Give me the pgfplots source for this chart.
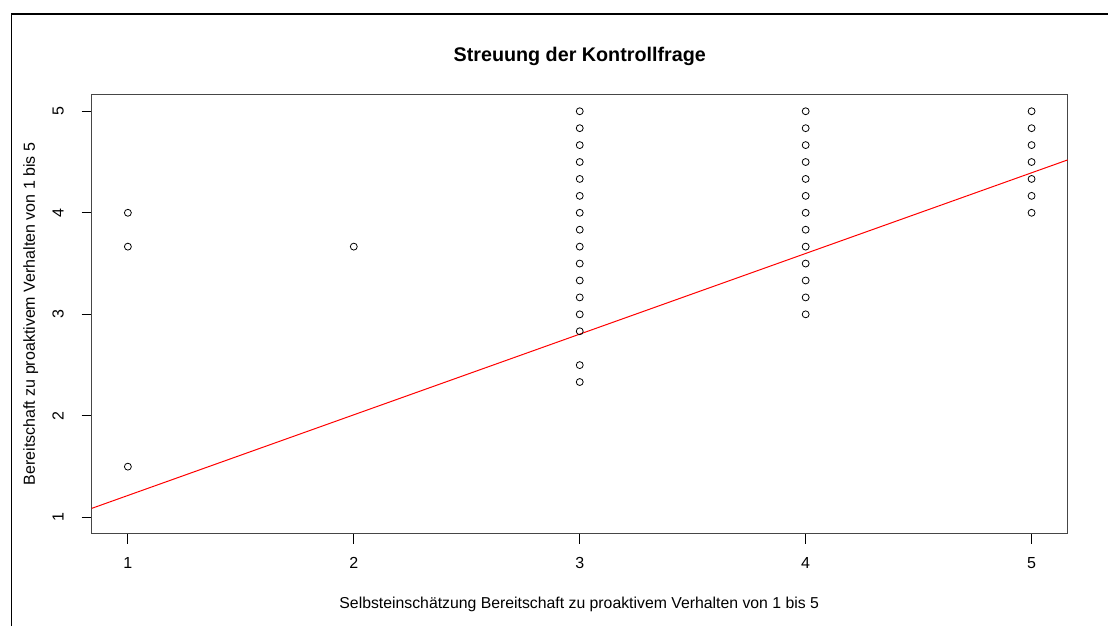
\documentclass[border=0pt]{standalone}
\usepackage{pgfplots}
\pgfplotsset{compat=1.18}
\usepackage{fontspec}
\setmainfont{Liberation Sans}
\definecolor{axgray}{RGB}{70,70,70}
\begin{document}
\begin{tikzpicture}
\path[use as bounding box] (0pt,0pt) rectangle (831pt,469.5pt);
\draw[black, line width=1.4pt] (8.6pt,0pt) -- (8.6pt,459pt) -- (831pt,459pt);
\begin{axis}[
  at={(68.8pt,398.25pt)}, anchor=north west,
  width=732pt, height=329pt, scale only axis,
  xmin=0.84, xmax=5.16, ymin=0.84, ymax=5.16,
  xtick={1,2,3,4,5}, ytick={1,2,3,4,5},
  axis line style={axgray, line width=0.75pt},
  tick style={black, line width=0.75pt},
  tick align=outside, major tick length=7.5pt,
  xtick pos=bottom, ytick pos=left,
  /pgf/number format/assume math mode=true,
  tick label style={font=\fontsize{12}{14}\selectfont, text=black},
  xticklabel style={anchor=base, yshift=-19pt},
  yticklabel style={rotate=90, anchor=base, yshift=13.5pt},
  clip=true,
]
\addplot[only marks, mark=o, mark size=2.6pt, mark options={black, line width=0.6pt}] coordinates {
(1,4) (1,3.6667) (1,1.5)
(2,3.6667)
(3,5) (3,4.8333) (3,4.6667) (3,4.5) (3,4.3333) (3,4.1667) (3,4) (3,3.8333) (3,3.6667) (3,3.5) (3,3.3333) (3,3.1667) (3,3) (3,2.8333) (3,2.5) (3,2.3333)
(4,5) (4,4.8333) (4,4.6667) (4,4.5) (4,4.3333) (4,4.1667) (4,4) (4,3.8333) (4,3.6667) (4,3.5) (4,3.3333) (4,3.1667) (4,3)
(5,5) (5,4.8333) (5,4.6667) (5,4.5) (5,4.3333) (5,4.1667) (5,4)
};
\addplot[red, line width=0.75pt] coordinates {(0.84,1.089) (5.16,4.521)};
\end{axis}
\node[font=\fontsize{14.8}{17}\selectfont\bfseries, anchor=base] at (434.8pt,423.2pt) {Streuung der Kontrollfrage};
\node[font=\fontsize{11.85}{14}\selectfont, anchor=base] at (434.4pt,13.5pt) {Selbsteinschätzung Bereitschaft zu proaktivem Verhalten von 1 bis 5};
\node[font=\fontsize{12}{14}\selectfont, anchor=base, rotate=90] at (26.25pt,234pt) {Bereitschaft zu proaktivem Verhalten von 1 bis 5};
\end{tikzpicture}
\end{document}
